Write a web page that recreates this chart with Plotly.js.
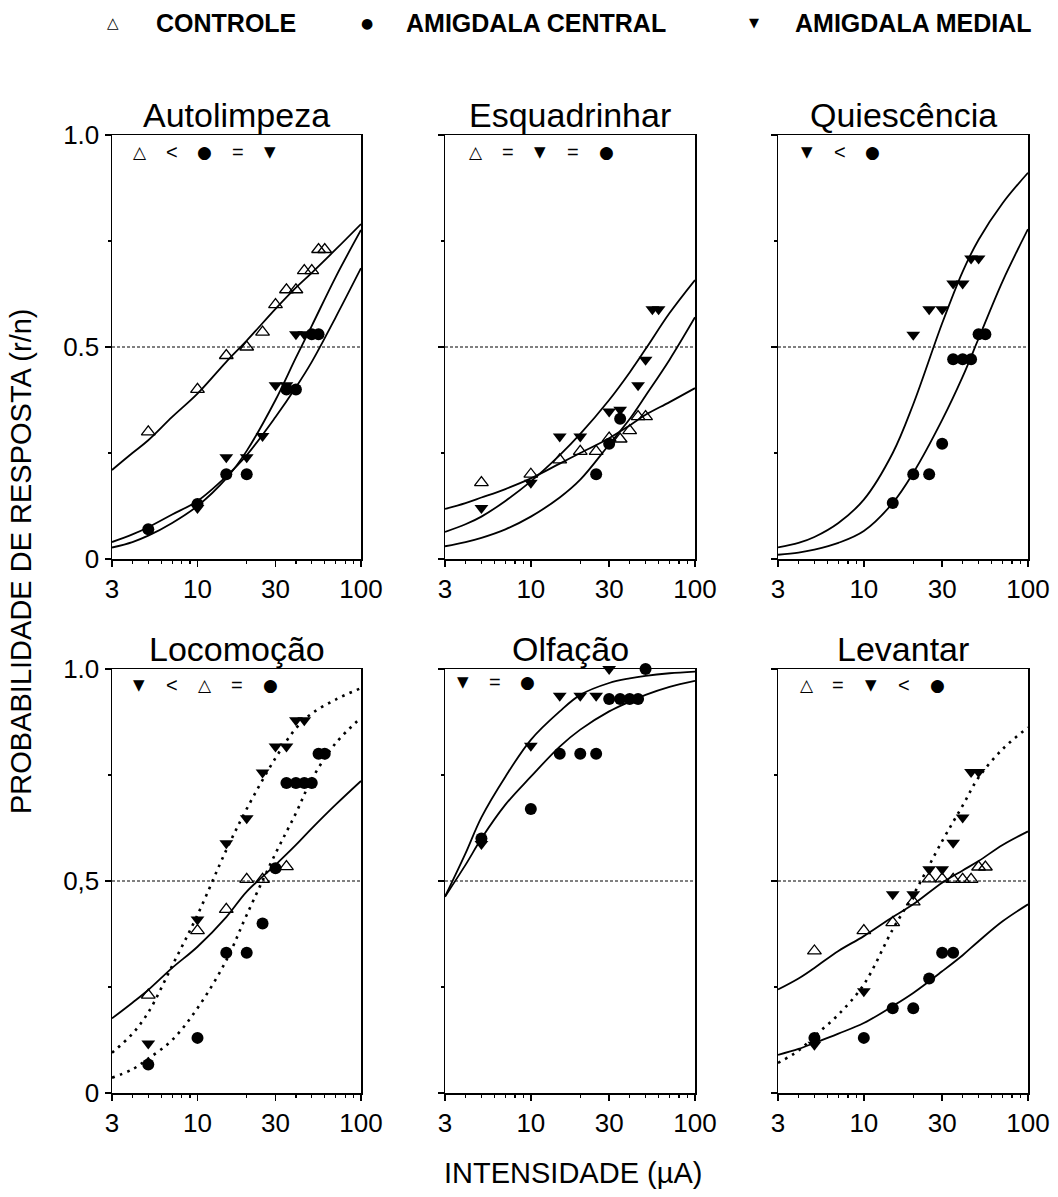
<!DOCTYPE html>
<html>
<head>
<meta charset="utf-8">
<script src="https://cdn.plot.ly/plotly-3.0.1.min.js"></script>
<style>html,body{margin:0;padding:0;background:#fff;}#chart{width:1058px;height:1197px;}</style>
</head>
<body>
<div id="chart"></div>
<script>
// ---------- DATA ----------
const panelTitles = ["Autolimpeza", "Esquadrinhar", "Quiescência", "Locomoção", "Olfação", "Levantar"];
const groupNames = ["CONTROLE", "AMIGDALA CENTRAL", "AMIGDALA MEDIAL"];
const xTickVals = [3, 10, 30, 100];
const xTickText = ["3", "10", "30", "100"];
const xMinorVals = [4, 5, 6, 7, 8, 9, 20, 40, 50, 60, 70, 80, 90];
const yTickVals = [0, 0.5, 1];
const yTickTextTop = ["0", "0.5", "1.0"];
const yTickTextBottom = ["0", "0,5", "1.0"];
const yMinorVals = [0.25, 0.75];
const curveX = [3, 4, 5, 7, 10, 15, 20, 30, 40, 50, 70, 100];

// Autolimpeza
const autoCtrlX = [5, 10, 15, 20, 25, 30, 35, 40, 45, 50, 55, 60];
const autoCtrlY = [0.30, 0.40, 0.48, 0.50, 0.535, 0.60, 0.635, 0.635, 0.68, 0.68, 0.73, 0.73];
const autoCentX = [5, 10, 15, 20, 35, 40, 50, 55];
const autoCentY = [0.07, 0.13, 0.20, 0.20, 0.40, 0.40, 0.53, 0.53];
const autoMedX = [10, 15, 20, 25, 30, 35, 40, 45];
const autoMedY = [0.12, 0.24, 0.24, 0.29, 0.41, 0.41, 0.53, 0.53];
const autoCtrlFit = [0.21, 0.25, 0.28, 0.335, 0.39, 0.465, 0.515, 0.59, 0.64, 0.675, 0.73, 0.79];
const autoCentFit = [0.04, 0.058, 0.075, 0.105, 0.137, 0.195, 0.245, 0.335, 0.405, 0.465, 0.57, 0.686];
const autoMedFit = [0.027, 0.04, 0.055, 0.085, 0.125, 0.19, 0.255, 0.375, 0.475, 0.55, 0.665, 0.776];

// Esquadrinhar
const esqCtrlX = [5, 10, 15, 20, 25, 30, 35, 40, 45, 50];
const esqCtrlY = [0.18, 0.20, 0.234, 0.254, 0.254, 0.285, 0.283, 0.303, 0.336, 0.336];
const esqCentX = [25, 30, 35];
const esqCentY = [0.20, 0.272, 0.331];
const esqMedX = [5, 10, 15, 20, 30, 35, 45, 50, 55, 60];
const esqMedY = [0.12, 0.18, 0.289, 0.289, 0.348, 0.352, 0.41, 0.47, 0.589, 0.589];
const esqCtrlFit = [0.118, 0.132, 0.145, 0.165, 0.19, 0.225, 0.25, 0.285, 0.315, 0.34, 0.37, 0.403];
const esqCentFit = [0.03, 0.04, 0.05, 0.07, 0.10, 0.145, 0.187, 0.27, 0.33, 0.385, 0.47, 0.57];
const esqMedFit = [0.064, 0.082, 0.10, 0.137, 0.183, 0.245, 0.295, 0.375, 0.44, 0.495, 0.58, 0.658];

// Quiescência
const quiCentX = [15, 20, 25, 30, 35, 40, 45, 50, 55];
const quiCentY = [0.132, 0.20, 0.20, 0.272, 0.471, 0.471, 0.471, 0.53, 0.53];
const quiMedX = [20, 25, 30, 35, 40, 45, 50];
const quiMedY = [0.529, 0.589, 0.589, 0.65, 0.65, 0.709, 0.709];
const quiCentFit = [0.01, 0.015, 0.022, 0.038, 0.066, 0.132, 0.203, 0.328, 0.43, 0.52, 0.655, 0.778];
const quiMedFit = [0.0275, 0.038, 0.052, 0.085, 0.14, 0.25, 0.365, 0.556, 0.678, 0.753, 0.839, 0.911];

// Locomoção
const locCtrlX = [5, 10, 15, 20, 25, 35];
const locCtrlY = [0.231, 0.383, 0.433, 0.504, 0.504, 0.534];
const locCentX = [5, 10, 15, 20, 25, 30, 35, 40, 45, 50, 55, 60];
const locCentY = [0.067, 0.13, 0.331, 0.331, 0.40, 0.53, 0.731, 0.731, 0.731, 0.731, 0.80, 0.80];
const locMedX = [5, 10, 15, 20, 25, 30, 35, 40, 45];
const locMedY = [0.117, 0.409, 0.589, 0.648, 0.756, 0.817, 0.817, 0.879, 0.879];
const locCtrlFit = [0.176, 0.213, 0.243, 0.295, 0.345, 0.415, 0.475, 0.538, 0.585, 0.624, 0.68, 0.736];
const locCentFit = [0.036, 0.056, 0.081, 0.125, 0.20, 0.313, 0.42, 0.565, 0.66, 0.74, 0.825, 0.885];
const locMedFit = [0.095, 0.14, 0.19, 0.30, 0.42, 0.573, 0.67, 0.79, 0.86, 0.895, 0.928, 0.955];

// Olfação
const olfCentX = [5, 10, 15, 20, 25, 30, 35, 40, 45, 50];
const olfCentY = [0.60, 0.67, 0.80, 0.80, 0.80, 0.929, 0.929, 0.929, 0.929, 1.0];
const olfMedX = [5, 10, 15, 20, 25, 30];
const olfMedY = [0.587, 0.819, 0.937, 0.937, 0.937, 1.0];
const olfCentFit = [0.463, 0.538, 0.60, 0.68, 0.746, 0.817, 0.857, 0.90, 0.923, 0.939, 0.958, 0.972];
const olfMedFit = [0.463, 0.565, 0.65, 0.746, 0.833, 0.90, 0.939, 0.967, 0.978, 0.984, 0.99, 0.994];

// Levantar
const levCtrlX = [5, 10, 15, 20, 25, 30, 35, 40, 45, 50, 55];
const levCtrlY = [0.335, 0.383, 0.402, 0.451, 0.505, 0.505, 0.504, 0.504, 0.504, 0.533, 0.533];
const levCentX = [5, 10, 15, 20, 25, 30, 35];
const levCentY = [0.13, 0.13, 0.20, 0.20, 0.27, 0.331, 0.331];
const levMedX = [5, 10, 15, 20, 25, 30, 35, 40, 45, 50];
const levMedY = [0.114, 0.24, 0.469, 0.469, 0.528, 0.528, 0.59, 0.65, 0.757, 0.757];
const levCtrlFit = [0.244, 0.27, 0.295, 0.335, 0.37, 0.415, 0.445, 0.496, 0.525, 0.547, 0.585, 0.617];
const levCentFit = [0.09, 0.104, 0.118, 0.14, 0.165, 0.205, 0.236, 0.287, 0.325, 0.358, 0.405, 0.445];
const levMedFit = [0.071, 0.10, 0.134, 0.185, 0.256, 0.386, 0.467, 0.594, 0.678, 0.744, 0.811, 0.862];

// Comparison keys in each panel
const panelKeys = [
  ["c", "<", "a", "=", "m"],
  ["c", "=", "m", "=", "a"],
  ["m", "<", "a"],
  ["m", "<", "c", "=", "a"],
  ["m", "=", "a"],
  ["c", "=", "m", "<", "a"]
];

// ---------- STYLE / LAYOUT ----------
const W = 1058, H = 1197;
const FONT = "Liberation Sans, Arial, sans-serif";
const SYMFONT = "DejaVu Sans, sans-serif";
const colPx = [[112, 361], [445, 695], [778, 1028]];
const rowPx = [[559, 135], [1093, 669]];
const px = v => v / W;
const py = v => 1 - v / H;

const markerStyle = {
  c: {symbol: "triangle-up-open", size: 12, color: "black", line: {color: "black", width: 1.3}},
  a: {symbol: "circle", size: 12, color: "black"},
  m: {symbol: "triangle-down", size: 12, color: "black", line: {width: 0}}
};
const keyGlyph = {c: "△", a: "●", m: "▼"};
const keyGlyphSize = {c: 17, a: 17, m: 15};
const legendGlyphSize = {c: 15, a: 14, m: 13};

const panels = [
  {curves: [[autoCtrlFit, "solid"], [autoCentFit, "solid"], [autoMedFit, "solid"]],
   pts: [["c", autoCtrlX, autoCtrlY], ["a", autoCentX, autoCentY], ["m", autoMedX, autoMedY]],
   keyPos: [0.112, 0.241, 0.373, 0.506, 0.635], keyY: 0.96},
  {curves: [[esqCtrlFit, "solid"], [esqCentFit, "solid"], [esqMedFit, "solid"]],
   pts: [["c", esqCtrlX, esqCtrlY], ["a", esqCentX, esqCentY], ["m", esqMedX, esqMedY]],
   keyPos: [0.123, 0.251, 0.38, 0.512, 0.647], keyY: 0.96},
  {curves: [[quiCentFit, "solid"], [quiMedFit, "solid"]],
   pts: [["a", quiCentX, quiCentY], ["m", quiMedX, quiMedY]],
   keyPos: [0.115, 0.248, 0.379], keyY: 0.96},
  {curves: [[locCtrlFit, "solid"], [locCentFit, "dots"], [locMedFit, "dots"]],
   pts: [["c", locCtrlX, locCtrlY], ["a", locCentX, locCentY], ["m", locMedX, locMedY]],
   keyPos: [0.109, 0.239, 0.373, 0.50, 0.637], keyY: 0.962},
  {curves: [[olfCentFit, "solid"], [olfMedFit, "solid"]],
   pts: [["a", olfCentX, olfCentY], ["m", olfMedX, olfMedY]],
   keyPos: [0.071, 0.2, 0.331], keyY: 0.97},
  {curves: [[levCtrlFit, "solid"], [levCentFit, "solid"], [levMedFit, "dots"]],
   pts: [["c", levCtrlX, levCtrlY], ["a", levCentX, levCentY], ["m", levMedX, levMedY]],
   keyPos: [0.115, 0.241, 0.372, 0.504, 0.637], keyY: 0.962}
];

const traces = [];
const layout = {
  width: W, height: H,
  margin: {l: 0, r: 0, t: 0, b: 0},
  paper_bgcolor: "white", plot_bgcolor: "white",
  showlegend: false,
  font: {family: FONT, color: "black"},
  shapes: [], annotations: []
};

panels.forEach((p, i) => {
  const n = i + 1;
  const row = Math.floor(i / 3), col = i % 3;
  const xa = "xaxis" + (n === 1 ? "" : n), ya = "yaxis" + (n === 1 ? "" : n);
  const xr = "x" + (n === 1 ? "" : n), yr = "y" + (n === 1 ? "" : n);
  layout[xa] = {
    type: "log", range: [Math.log10(3), 2],
    domain: [px(colPx[col][0]), px(colPx[col][1])],
    anchor: yr, showline: true, mirror: true, linecolor: "black", linewidth: 1.5,
    showgrid: false, zeroline: false,
    ticks: "outside", ticklen: 6, tickwidth: 1.5, tickcolor: "black",
    tickmode: "array", tickvals: xTickVals, ticktext: xTickText,
    tickfont: {family: FONT, size: 26, color: "black"},
    minor: {tickmode: "array", tickvals: xMinorVals, ticks: "outside", ticklen: 3, tickwidth: 1.2, tickcolor: "black", showgrid: false},
    fixedrange: true
  };
  layout[ya] = {
    range: [0, 1],
    domain: [py(rowPx[row][0]), py(rowPx[row][1])],
    anchor: xr, showline: true, mirror: true, linecolor: "black", linewidth: 1.5,
    showgrid: false, zeroline: false,
    ticks: "outside", ticklen: 6, tickwidth: 1.5, tickcolor: "black",
    tickmode: "array", tickvals: yTickVals, ticktext: row === 0 ? yTickTextTop : yTickTextBottom,
    showticklabels: col === 0,
    tickfont: {family: FONT, size: 26, color: "black"},
    minor: {tickmode: "array", tickvals: yMinorVals, ticks: "outside", ticklen: 3, tickwidth: 1.2, tickcolor: "black", showgrid: false},
    fixedrange: true
  };
  // 0.5 reference line
  layout.shapes.push({type: "line", xref: xr + " domain", yref: yr, x0: 0, x1: 1, y0: 0.5, y1: 0.5,
    line: {color: "black", width: 1, dash: "3px,2px"}, layer: "below"});
  // fitted curves
  p.curves.forEach(([yv, st]) => {
    traces.push({
      type: "scatter", mode: "lines", x: curveX, y: yv, xaxis: xr, yaxis: yr,
      line: st === "dots"
        ? {color: "black", width: 2.6, dash: "2.6px,5.4px", shape: "spline", smoothing: 1}
        : {color: "black", width: 1.8, shape: "spline", smoothing: 1},
      hoverinfo: "skip", cliponaxis: true
    });
  });
  // data points
  p.pts.forEach(([g, xv, yv]) => {
    traces.push({
      type: "scatter", mode: "markers", x: xv, y: yv, xaxis: xr, yaxis: yr,
      marker: markerStyle[g], cliponaxis: false,
      name: groupNames[{c: 0, a: 1, m: 2}[g]]
    });
  });
  // title
  layout.annotations.push({text: panelTitles[i], xref: xr + " domain", yref: yr + " domain",
    x: 0.5, y: 1, xanchor: "center", yanchor: "middle", yshift: 20, showarrow: false,
    font: {family: FONT, size: 34, color: "black"}});
  // key
  panelKeys[i].forEach((k, j) => {
    const isSym = keyGlyph[k] !== undefined;
    layout.annotations.push({
      text: isSym ? keyGlyph[k] : k,
      xref: xr + " domain", yref: yr + " domain",
      x: p.keyPos[j], y: p.keyY, xanchor: "center", yanchor: "middle", showarrow: false,
      font: isSym ? {family: SYMFONT, size: keyGlyphSize[k], color: "black"}
                  : {family: FONT, size: 20, color: "black"}
    });
  });
});

// global axis titles
layout.annotations.push({text: "PROBABILIDADE DE RESPOSTA (r/n)", xref: "paper", yref: "paper",
  x: px(21), y: py(562), textangle: -90, xanchor: "center", yanchor: "middle", showarrow: false,
  font: {family: FONT, size: 29, color: "black"}});
layout.annotations.push({text: "INTENSIDADE (µA)", xref: "paper", yref: "paper",
  x: px(573), y: py(1173), xanchor: "center", yanchor: "middle", showarrow: false,
  font: {family: FONT, size: 29, color: "black"}});

// top legend
const legendItems = [
  {g: "c", sx: 113, tx: 154, name: groupNames[0]},
  {g: "a", sx: 367, tx: 404, name: groupNames[1]},
  {g: "m", sx: 754, tx: 793, name: groupNames[2]}
];
legendItems.forEach(it => {
  layout.annotations.push({text: keyGlyph[it.g], xref: "paper", yref: "paper", x: px(it.sx), y: py(23),
    xanchor: "center", yanchor: "middle", showarrow: false,
    font: {family: SYMFONT, size: legendGlyphSize[it.g], color: "black"}});
  layout.annotations.push({text: "<b>" + it.name + "</b>", xref: "paper", yref: "paper", x: px(it.tx), y: py(23),
    xanchor: "left", yanchor: "middle", showarrow: false,
    font: {family: FONT, size: 25, color: "black"}});
});

Plotly.newPlot("chart", traces, layout, {staticPlot: true, displayModeBar: false});
</script>
</body>
</html>
